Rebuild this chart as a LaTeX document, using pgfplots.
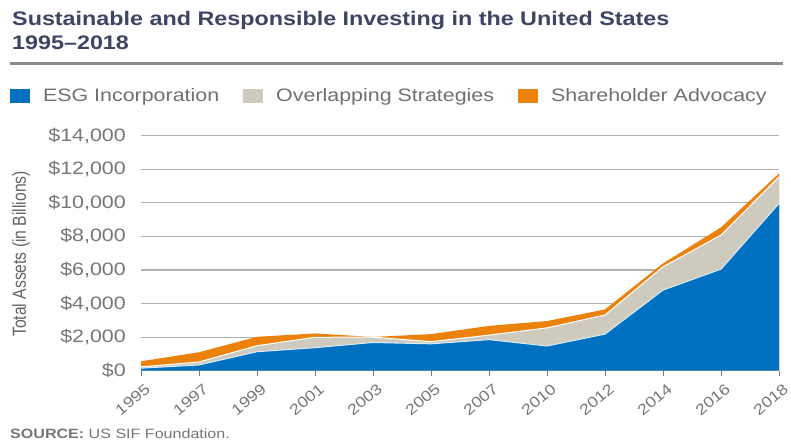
\documentclass[border=0pt]{standalone}
\usepackage{fontspec}
\setmainfont{Liberation Sans}[FakeStretch=1.19]
\newfontfamily\plainfont{Liberation Sans}
\usepackage{graphicx}
\usepackage{pgfplots}
\usepackage{pgfplotstable}
\pgfplotsset{compat=1.18}

\definecolor{esgblue}{RGB}{0,112,192}
\definecolor{overgray}{RGB}{206,203,190}
\definecolor{advorange}{RGB}{234,130,12}
\definecolor{titlecol}{RGB}{62,68,100}
\definecolor{rulegray}{RGB}{140,140,140}
\definecolor{gridgray}{RGB}{178,178,178}
\definecolor{tickgray}{RGB}{118,118,118}
\definecolor{legtext}{RGB}{112,112,112}
\definecolor{ylabgray}{RGB}{98,98,98}
\definecolor{edgeblue}{RGB}{222,236,248}

% tops of each band (billions of dollars)
\pgfplotstableread{
x  esg   overlap total
0  150   230     560
1  340   520     1100
2  1130  1490    2020
3  1370  1990    2220
4  1680  2000    2010
5  1600  1730    2180
6  1850  2120    2670
7  1470  2550    2960
8  2180  3320    3650
9  4800  6190    6390
10 6050  8080    8540
11 9960  11550   11750
}\datatable

\begin{document}
\begin{tikzpicture}
\useasboundingbox (0pt,0pt) rectangle (791pt,442pt);
\node[anchor=base west, inner sep=0pt, text=titlecol, font=\bfseries\fontsize{19.6}{22}\selectfont]
  at (12pt,416pt) {Sustainable and Responsible Investing in the United States};
\node[anchor=base west, inner sep=0pt, text=titlecol, font=\bfseries\fontsize{19.6}{22}\selectfont]
  at (12pt,392pt) {1995--2018};
\draw[rulegray, line width=2.5pt] (10pt,378.7pt) -- (783pt,378.7pt);

\begin{axis}[
  at={(141pt,71.3pt)}, anchor=south west,
  scale only axis, width=638pt, height=235pt,
  xmin=0, xmax=11, ymin=0, ymax=14000,
  separate axis lines,
  axis x line*=bottom, axis y line*=left,
  axis line style={-},
  x axis line style={draw=edgeblue, line width=1pt},
  y axis line style={draw=none},
  no markers,
  scaled y ticks=false,
  ytick={0,2000,...,14000},
  yticklabels={\$0,{\$2,000},{\$4,000},{\$6,000},{\$8,000},{\$10,000},{\$12,000},{\$14,000}},
  ymajorgrids, grid style={gridgray, line width=1.2pt},
  ytick style={draw=none},
  yticklabel style={font=\fontsize{18}{20}\selectfont, text=tickgray, inner sep=0pt, xshift=-15pt},
  xtick={0,...,11},
  xticklabels={1995,1997,1999,2001,2003,2005,2007,2010,2012,2014,2016,2018},
  xtick align=outside, major tick length=5pt,
  xtick style={tickgray, line width=0.8pt},
  xticklabel style={font=\fontsize{15}{17}\selectfont, text=tickgray, inner sep=0pt,
    xshift=7pt, yshift=-11pt, rotate=40, anchor=east},
  ylabel={\scalebox{1}[1.2]{\plainfont\fontsize{15.7}{18}\selectfont Total Assets (in Billions)}},
  ylabel style={at={(axis description cs:-0.188,0.497)}, anchor=center, text=ylabgray},
  legend columns=3,
  reverse legend,
  legend cell align=left,
  legend image code/.code={\path[#1,draw=none] (0pt,-7pt) rectangle (20pt,7pt);},
  legend style={at={(axis description cs:-0.2053,1.1695)}, anchor=west, draw=none, fill=none,
    inner sep=0pt, outer sep=0pt, font=\fontsize{18}{20}\selectfont,
    nodes={inner sep=0pt, text=legtext},
    /tikz/every odd column/.append style={column sep=13pt},
    /tikz/every even column/.append style={column sep=24pt}},
]
\addplot[fill=advorange, draw=none] table[x=x,y=total]{\datatable} \closedcycle;
\addlegendentry{Shareholder Advocacy}
\addplot[fill=overgray, draw=none] table[x=x,y=overlap]{\datatable} \closedcycle;
\addlegendentry{Overlapping Strategies}
\addplot[fill=esgblue, draw=none] table[x=x,y=esg]{\datatable} \closedcycle;
\addlegendentry{ESG Incorporation}
\addplot[forget plot, white, line width=1pt] table[x=x,y=overlap]{\datatable};
\addplot[forget plot, edgeblue, line width=1pt] table[x=x,y=esg]{\datatable};
\end{axis}

\node[anchor=base west, inner sep=0pt, text=tickgray, font=\fontsize{13.5}{15}\selectfont]
  at (10pt,4pt) {\textbf{SOURCE:} US SIF Foundation.};
\end{tikzpicture}
\end{document}
